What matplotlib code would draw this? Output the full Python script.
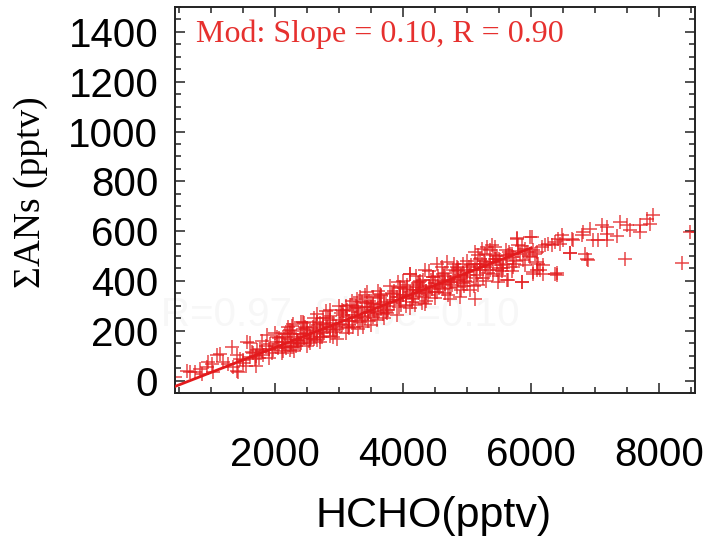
import numpy as np
import matplotlib
matplotlib.use("Agg")
import matplotlib.pyplot as plt
from matplotlib.ticker import MultipleLocator

# HCHO (pptv) vs sum of ANs (pptv)
hcho = [
    # low end
    433, 615, 667, 746, 824, 850, 954, 1006, 1084, 1136, 1188, 1266, 1318, 1423, 1449,
    1553, 1631, 1683, 1761, 1865, 1917, 2022, 2100, 2178, 2256, 2334, 2126, 1969, 1813,
    1501, 1344, 1032, 928, 1397, 1709, 1402,
    # 2200-4300
    4105, 3923, 3949, 3636, 3324, 3167, 2855, 2647, 2438, 2282, 2230, 3376, 3688, 2959,
    2542, 2230, 2386, 2699, 2803, 3011, 3272, 3480, 3792, 4001, 4157, 4261, 4053, 3845,
    3532, 3272, 3063, 2855, 2595, 2386, 2334, 2490, 2751, 3115, 3428, 3636, 3949, 3740,
    3584, 3220, 2907, 2647, 2282, 3428, 3272, 3532,
    # 4100-6100
    5772, 5980, 5121, 5225, 5303, 5381, 5433, 5173, 5277, 5355, 5485, 5641, 5850, 6032,
    6084, 5121, 5173, 5042, 4886, 4730, 4339, 4183, 4678, 4522, 4339, 4105, 4834, 4990,
    5121, 5277, 5459, 5615, 5720, 5824, 5928, 5876, 5667, 5511, 5355, 5199, 5042, 4886,
    4730, 4574, 4417, 4261, 4157, 4626, 4782, 4938, 4469, 4313, 4209, 4626, 4834, 4990,
    5407, 5563, 5720, 5980, 6084, 4391, 4496, 4131,
    # upper end
    6006, 6032, 6058, 6084, 6110, 6032, 6136, 6188, 6188, 6162, 6214, 6266, 6318, 6370,
    6423, 6475, 6501, 6449, 6631, 6657, 6605, 6787, 6813, 6839, 6891, 6917, 6970, 7048,
    7100, 7178, 7178, 7188, 7344, 7386, 7464, 7490, 7542, 7699, 7699, 7803, 7907, 7855,
    8350, 8480, 6370, 6397, 5775, 6605, 6870, 8600, 5855, 5620, 6402,
    # dense core
    1500, 1600, 1700, 1800, 1900, 2000, 2050, 2100, 2150, 2200, 2250, 2300, 2350, 2400,
    2450, 2500, 2550, 2600, 2650, 2700, 2750, 2800, 2850, 2900, 2950, 3000, 3050, 3100,
    3150, 3200, 3250, 3300, 3350, 3400, 3450, 3500, 3550, 3600, 3650, 3700, 3750, 3800,
    3850, 3900, 3950, 4000, 4050, 4100, 4150, 4200, 4250, 4300, 4350, 4400, 4450, 4500,
    4550, 4600, 4650, 4700, 4750, 4800, 4850, 4900, 4950, 5000, 5100, 5200, 5300, 5400,
    5500, 5600, 5700, 5800, 5900,
    2020, 2120, 2230, 2330, 2430, 2530, 2630, 2730, 2830, 2930, 3030, 3130, 3230, 3330,
    3430, 3530, 3630, 3730, 3830, 3930, 4030, 4130, 4230, 4330, 4430, 4530, 4630, 4730,
    4830, 4930, 5030, 5130, 5230, 5330, 5430, 5530, 5630, 5730,
    1550, 1650, 1750, 1850, 1950, 2060, 2160, 2260, 2360, 2460, 2560, 2660, 2760, 2860,
    2960, 3060, 3160, 3260, 3360, 3460, 3560, 3660, 3760, 3860, 3960, 4060, 4160, 4260,
    4360, 4460, 4560, 4660, 4760, 4860, 4960, 5060, 5160, 5260, 5360, 5460, 5560, 5660,
    5760, 5860, 5960, 3100, 3200, 3300, 3400, 3500, 3600, 2400, 2500, 2600, 2700,
    # outer edges of the band
    1600, 1700, 1800, 1900, 2000, 2100, 2200, 2300, 2400, 2500, 2600, 2700, 2800, 2900,
    3000, 3100, 3200, 3300, 3400, 3500, 3600, 3700, 3800, 3900, 4000, 4100, 4200, 4300,
    4400, 4500, 4600, 4700, 4800, 4900, 5000, 5100, 5200, 5300, 5400, 5500, 5600, 5700,
    5800, 5900,
    2150, 2250, 2450, 2550, 2750, 2850, 3050, 3150, 3350, 3450, 3650, 3750, 3950, 4050,
    4250, 4350, 4550, 4650, 4850, 4950, 5150, 5250, 5450, 5550,
]
ans = [
    14, 40, 34, 34, 47, 27, 74, 67, 101, 107, 74, 67, 134, 34, 87,
    154, 114, 87, 128, 181, 148, 154, 134, 188, 221, 161, 174, 121, 101,
    81, 54, 34, 54, 101, 121, 40,
    429, 396, 376, 349, 335, 302, 282, 268, 235, 228, 201, 215, 268, 168,
    168, 121, 148, 175, 215, 228, 255, 275, 315, 342, 362, 382, 376, 349,
    309, 295, 262, 242, 215, 188, 161, 201, 228, 282, 295, 309, 335, 282,
    242, 215, 201, 161, 134, 356, 329, 335,
    570, 577, 517, 530, 537, 543, 537, 503, 510, 523, 396, 405, 396, 429,
    443, 329, 382, 362, 336, 329, 309, 302, 476, 470, 443, 429, 456, 443,
    470, 456, 443, 470, 496, 510, 517, 483, 510, 483, 476, 443, 423, 409,
    396, 389, 376, 362, 349, 429, 443, 470, 416, 403, 376, 369, 376, 396,
    429, 450, 456, 496, 517, 342, 356, 329,
    576, 523, 509, 476, 469, 436, 442, 463, 429, 536, 543, 550, 543, 556,
    570, 583, 563, 550, 570, 563, 512, 583, 597, 509, 483, 610, 566, 566,
    623, 617, 590, 563, 579, 637, 489, 623, 603, 623, 597, 650, 664, 630,
    472, 597, 429, 422, 571, 511, 490, 595, 394, 402, 430,
    70, 95, 100, 120, 125, 140, 130, 155, 140, 165, 150, 175, 160, 185,
    170, 190, 180, 200, 185, 205, 195, 225, 205, 230, 215, 245, 225, 255,
    240, 265, 250, 275, 260, 285, 270, 295, 280, 305, 290, 315, 300, 325,
    310, 335, 320, 345, 330, 355, 340, 365, 350, 372, 360, 380, 368, 390,
    378, 398, 388, 405, 395, 415, 405, 425, 415, 435, 445, 455, 465, 478,
    490, 500, 510, 520, 530,
    175, 120, 190, 140, 205, 160, 225, 175, 250, 195, 270, 215, 290, 235,
    310, 255, 330, 275, 350, 295, 368, 315, 390, 335, 405, 355, 420, 370,
    440, 390, 455, 410, 470, 430, 490, 450, 505, 470,
    60, 110, 90, 140, 110, 170, 130, 200, 150, 215, 170, 235, 190, 260,
    205, 280, 225, 300, 245, 320, 265, 340, 285, 360, 305, 385, 330, 400,
    350, 415, 370, 430, 385, 450, 400, 465, 425, 480, 445, 500, 465, 515,
    480, 540, 500, 300, 240, 290, 250, 310, 270, 150, 210, 165, 230,
    150, 60, 160, 90, 190, 110, 215, 120, 235, 140, 250, 155, 280, 175,
    300, 190, 320, 205, 345, 225, 360, 250, 380, 265, 400, 290, 420, 310,
    440, 330, 455, 345, 470, 365, 480, 380, 490, 400, 505, 420, 525, 440,
    545, 465,
    185, 135, 230, 150, 250, 180, 285, 210, 315, 240, 345, 270, 370, 300,
    395, 320, 420, 350, 445, 380, 470, 410, 490, 440,
]

# reduced major axis fit from the panel text
slope = 0.10
intercept = -67.0
fit_x = [433, 6000]

red = "#e31a1c"
sans = ["Liberation Sans", "DejaVu Sans"]
serif = ["Liberation Serif", "DejaVu Serif"]

fig = plt.figure(figsize=(7.07, 5.36), dpi=100)
ax = fig.add_axes([175 / 707, 1 - 393 / 536, 520 / 707, 386 / 536])
ax.patch.set_alpha(0)

# faint ghost label left over in the original figure, sits under the points
ax.text(340 / 707, 1 - 315 / 536, "R=0.97, Slope=0.10", transform=fig.transFigure,
        ha="center", va="center", fontsize=29, family=sans, color="#f7f7f7",
        zorder=0.5, clip_on=False)

ax.plot(hcho, ans, linestyle="none", marker="+", markersize=9.5, markeredgewidth=1.1,
        color=red, alpha=0.8, zorder=2)
fx = np.array(fit_x, dtype=float)
ax.plot(fx, slope * fx + intercept, color=red, linewidth=2.0, zorder=3)

ax.set_xlim(433, 8560)
ax.set_ylim(-50, 1500)

ax.xaxis.set_major_locator(MultipleLocator(2000))
ax.xaxis.set_minor_locator(MultipleLocator(500))
ax.yaxis.set_major_locator(MultipleLocator(200))
ax.yaxis.set_minor_locator(MultipleLocator(50))

ax.tick_params(which="both", direction="in", top=True, right=True, width=1.1,
               color="#222222")
ax.tick_params(which="major", length=7.5)
ax.tick_params(which="minor", length=4.5)
ax.tick_params(axis="x", which="major", pad=31, labelsize=29)
ax.tick_params(axis="y", which="major", pad=12, labelsize=29)
for lab in ax.get_xticklabels() + ax.get_yticklabels():
    lab.set_family(sans)

for sp in ax.spines.values():
    sp.set_linewidth(1.4)
    sp.set_color("#222222")

ax.text(0.04, 0.93, "Mod: Slope = 0.10, R = 0.90", transform=ax.transAxes,
        fontsize=23, family=serif, color="#e6302e", va="center", ha="left")

fig.text(434 / 707, 1 - 527 / 536, "HCHO(pptv)", ha="center", va="baseline",
         fontsize=31, family=sans)
fig.text(31 / 707, 1 - 192 / 536, "ΣANs (pptv)", ha="center", va="center",
         rotation=90, fontsize=27, family=serif)

fig.savefig("out.png", dpi=100)
